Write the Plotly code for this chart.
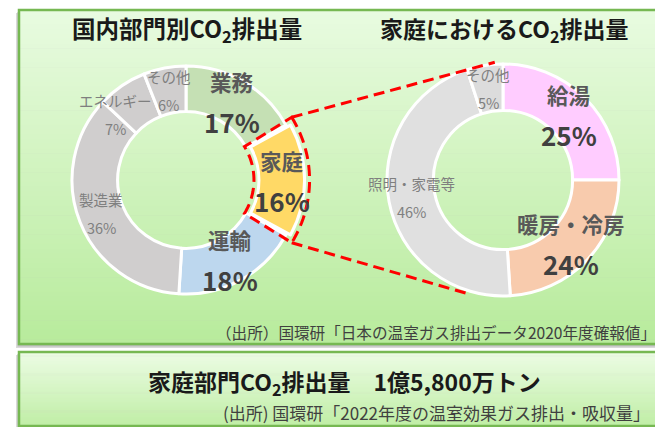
import math
import plotly.graph_objects as go

# ---------------- data ----------------
sector_labels = ["業務", "家庭", "運輸", "製造業", "エネルギー", "その他"]
sector_values = [17, 16, 18, 36, 7, 6]
sector_colors = ["#c5e0b4", "#ffd966", "#bdd7ee", "#d0cece", "#d0cece", "#d0cece"]
sector_major = [True, True, True, False, False, False]
sector_pull = [0, 0.04, 0, 0, 0, 0]

home_labels = ["給湯", "暖房・冷房", "照明・家電等", "その他"]
home_values = [25, 24, 46, 5]
home_colors = ["#ffccff", "#f8cbad", "#e0e0e0", "#dcdcdc"]
home_major = [True, True, False, False]

title_left = "国内部門別CO<sub>2</sub>排出量"
title_right = "家庭におけるCO<sub>2</sub>排出量"
source_top = "（出所）国環研「日本の温室ガス排出データ2020年度確報値」"
total_title = "家庭部門CO<sub>2</sub>排出量　1億5,800万トン"
source_bottom = "(出所) 国環研「2022年度の温室効果ガス排出・吸収量」"

# ---------------- layout geometry ----------------
W, H = 655, 427
FONT = "Noto Sans CJK JP"
LEFT = dict(cx=186, cy=180, r=114)
RIGHT = dict(cx=503, cy=180, r=116)
HOLE = 0.6
label_nudge = {("L", "エネルギー"): (-19, 10)}


def px(x):
    return x / W


def py(y):
    return 1 - y / H


def polar(cx, cy, rho, deg):
    a = math.radians(deg)
    return cx + rho * math.sin(a), cy - rho * math.cos(a)


def domain(c, maxpull):
    half = c["r"] * (1 + maxpull)
    return dict(x=[px(c["cx"] - half), px(c["cx"] + half)],
                y=[py(c["cy"] + half), py(c["cy"] - half)])


fig = go.Figure()
fig.add_trace(go.Pie(labels=sector_labels, values=sector_values, sort=False,
                     direction="clockwise", rotation=0, hole=HOLE,
                     pull=sector_pull, textinfo="none", hoverinfo="skip",
                     marker=dict(colors=sector_colors, line=dict(color="white", width=3)),
                     domain=domain(LEFT, max(sector_pull))))
fig.add_trace(go.Pie(labels=home_labels, values=home_values, sort=False,
                     direction="clockwise", rotation=0, hole=HOLE,
                     textinfo="none", hoverinfo="skip",
                     marker=dict(colors=home_colors, line=dict(color="white", width=3)),
                     domain=domain(RIGHT, 0)))

annotations = []
shapes = []


def add_labels(key, c, labels, values, major, pulls):
    total = sum(values)
    cum = 0
    rmid = c["r"] * (1 + HOLE) / 2
    for lab, v, mj, pl in zip(labels, values, major, pulls):
        mid = 360 * (cum + v / 2) / total
        ox, oy = polar(0, 0, pl * c["r"], mid)
        x, y = polar(c["cx"] + ox, c["cy"] + oy, rmid, mid)
        dx, dy = label_nudge.get((key, lab), (0, 0))
        x += dx
        y += dy
        pct = f"{round(100 * v / total)}%"
        if mj:
            annotations.append(dict(x=px(x), y=py(y - 20), text=f"<b>{lab}</b>",
                                    font=dict(size=21.5, color="#595959", family=FONT)))
            annotations.append(dict(x=px(x), y=py(y + 20), text=f"<b>{pct}</b>",
                                    font=dict(size=26, color="#404040", family=FONT)))
        else:
            annotations.append(dict(x=px(x), y=py(y - 14), text=lab,
                                    font=dict(size=14.5, color="#7f7f7f", family=FONT)))
            annotations.append(dict(x=px(x), y=py(y + 14), text=pct,
                                    font=dict(size=14.5, color="#7f7f7f", family=FONT)))
        cum += v


add_labels("L", LEFT, sector_labels, sector_values, sector_major, sector_pull)
add_labels("R", RIGHT, home_labels, home_values, home_major, [0] * len(home_values))

# ---------------- panels (gradient backgrounds) ----------------
def panel(x0, y0, x1, y1, c_top, c_bot, n=70):
    # shadow
    shapes.append(dict(type="rect", xref="paper", yref="paper", layer="below",
                       x0=px(x0 - 3), x1=px(x1 + 3), y0=py(y1 + 4), y1=py(y0 + 3),
                       fillcolor="#d9d9d9", line=dict(width=0)))
    shapes.append(dict(type="rect", xref="paper", yref="paper", layer="below",
                       x0=px(x0 - 1.5), x1=px(x1 + 3), y0=py(y1 + 2.5), y1=py(y0 + 2),
                       fillcolor="#bdbdbd", line=dict(width=0)))
    ct = [int(c_top[i:i + 2], 16) for i in (1, 3, 5)]
    cb = [int(c_bot[i:i + 2], 16) for i in (1, 3, 5)]
    for i in range(n):
        t = i / (n - 1)
        col = "#%02x%02x%02x" % tuple(round(a + (b - a) * t) for a, b in zip(ct, cb))
        ya = y0 + (y1 - y0) * i / n
        yb = y0 + (y1 - y0) * (i + 1) / n + 0.6
        shapes.append(dict(type="rect", xref="paper", yref="paper", layer="below",
                           x0=px(x0), x1=px(x1), y0=py(min(yb, y1)), y1=py(ya),
                           fillcolor=col, line=dict(width=0)))
    shapes.append(dict(type="rect", xref="paper", yref="paper", layer="below",
                       x0=px(x0), x1=px(x1), y0=py(y1), y1=py(y0),
                       fillcolor="rgba(0,0,0,0)", line=dict(color="#76b852", width=2.5)))


panel(19, 10, 662, 344, "#e8fbe0", "#b8eb9c")
panel(19, 352, 662, 426, "#ecfce4", "#c0eea6")

# ---------------- red dashed highlight ----------------
DASH = "11px,6px"
tot = sum(sector_values)
k = sector_labels.index("家庭")
a1 = 360 * sum(sector_values[:k]) / tot - 3
a2 = 360 * sum(sector_values[:k + 1]) / tot + 3
mid = (a1 + a2) / 2
ox, oy = polar(0, 0, sector_pull[k] * LEFT["r"], mid)
ccx, ccy = LEFT["cx"] + ox, LEFT["cy"] + oy
r_out = LEFT["r"] + 5
r_in = LEFT["r"] * HOLE - 5
pts = [polar(ccx, ccy, r_out, a1 + (a2 - a1) * i / 30) for i in range(31)]
pts += [polar(ccx, ccy, r_in, a2 - (a2 - a1) * i / 30) for i in range(31)]
path = "M " + " L ".join(f"{px(x):.5f},{py(y):.5f}" for x, y in pts) + " Z"
shapes.append(dict(type="path", xref="paper", yref="paper", path=path,
                   line=dict(color="#ff0000", width=3, dash=DASH)))

top_start = polar(ccx, ccy, r_out, a1)
bot_start = polar(ccx, ccy, r_out, a2)
top_end = polar(RIGHT["cx"], RIGHT["cy"], RIGHT["r"] + 2, -4)
bot_end = polar(RIGHT["cx"], RIGHT["cy"], RIGHT["r"] + 3, 196)
for s, e in ((top_start, top_end), (bot_start, bot_end)):
    shapes.append(dict(type="line", xref="paper", yref="paper",
                       x0=px(s[0]), y0=py(s[1]), x1=px(e[0]), y1=py(e[1]),
                       line=dict(color="#ff0000", width=3, dash=DASH)))

# ---------------- titles / texts ----------------
annotations += [
    dict(x=px(187), y=py(30), text=f"<b>{title_left}</b>",
         font=dict(size=23.5, color="#1a1a1a", family=FONT)),
    dict(x=px(504), y=py(30), text=f"<b>{title_right}</b>",
         font=dict(size=23, color="#1a1a1a", family=FONT)),
    dict(x=px(214), y=py(332), text=source_top, xanchor="left",
         font=dict(size=15.6, color="#404040", family=FONT)),
    dict(x=px(344), y=py(382), text=f"<b>{total_title}</b>",
         font=dict(size=23, color="#1a1a1a", family=FONT)),
    dict(x=px(221), y=py(412.5), text=source_bottom, xanchor="left",
         font=dict(size=17, color="#404040", family=FONT)),
]
for a in annotations:
    a.setdefault("xref", "paper")
    a.setdefault("yref", "paper")
    a.setdefault("showarrow", False)
    a.setdefault("xanchor", "center")
    a.setdefault("yanchor", "middle")

fig.update_layout(width=W, height=H, margin=dict(l=0, r=0, t=0, b=0),
                  paper_bgcolor="white", plot_bgcolor="rgba(0,0,0,0)",
                  showlegend=False, shapes=shapes, annotations=annotations,
                  font=dict(family=FONT))
fig.write_html("out.html", config={"displayModeBar": False},
               post_script="document.body.style.margin='0';document.body.style.overflow='hidden';")
